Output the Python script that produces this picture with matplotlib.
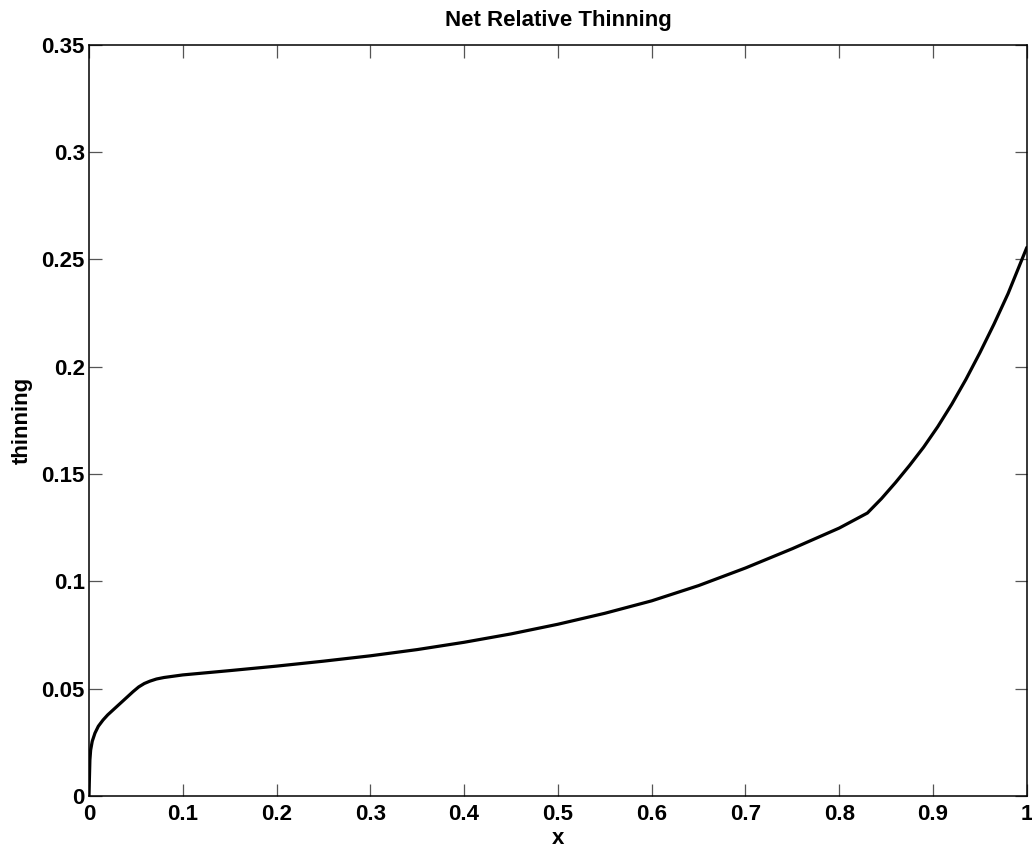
import matplotlib
matplotlib.use("Agg")
import matplotlib.pyplot as plt

# curve
x_vals = [0.0, 0.001, 0.0018, 0.0035, 0.0064, 0.01, 0.015, 0.02, 0.0295, 0.035,
          0.041, 0.047, 0.053, 0.059, 0.065, 0.072, 0.08, 0.09, 0.1, 0.15,
          0.2, 0.25, 0.3, 0.35, 0.4, 0.45, 0.5, 0.55, 0.6, 0.65,
          0.7, 0.75, 0.8, 0.83, 0.845, 0.86, 0.875, 0.89, 0.905, 0.92,
          0.935, 0.95, 0.965, 0.98, 1.0]
thinning = [0.0, 0.0168, 0.0214, 0.0255, 0.0293, 0.0325, 0.0354, 0.0378, 0.0416, 0.0438,
            0.0462, 0.0486, 0.0508, 0.0524, 0.0535, 0.0545, 0.0552, 0.0558, 0.0564, 0.0584,
            0.0605, 0.0628, 0.0653, 0.0682, 0.0716, 0.0755, 0.0800, 0.0851, 0.0909, 0.0980,
            0.1062, 0.1152, 0.1248, 0.1318, 0.1385, 0.1460, 0.1540, 0.1625, 0.1720, 0.1825,
            0.1940, 0.2065, 0.2198, 0.2340, 0.2555]

x_ticks = [0, 0.1, 0.2, 0.3, 0.4, 0.5, 0.6, 0.7, 0.8, 0.9, 1]
x_tick_labels = ['0', '0.1', '0.2', '0.3', '0.4', '0.5', '0.6', '0.7', '0.8', '0.9', '1']
y_ticks = [0, 0.05, 0.1, 0.15, 0.2, 0.25, 0.3, 0.35]
y_tick_labels = ['0', '0.05', '0.1', '0.15', '0.2', '0.25', '0.3', '0.35']

plt.rcParams['font.family'] = ['Liberation Sans', 'DejaVu Sans']
plt.rcParams['font.weight'] = 'bold'

fig = plt.figure(figsize=(10.32, 8.51), dpi=100)
ax = fig.add_axes([0.0862, 0.0646, 0.9088, 0.8831])

ax.plot(x_vals, thinning, color='black', linewidth=2.3,
        solid_joinstyle='round', solid_capstyle='round')

ax.set_xlim(0, 1)
ax.set_ylim(0, 0.35)
ax.set_xticks(x_ticks)
ax.set_xticklabels(x_tick_labels, fontsize=16, fontweight='bold')
ax.set_yticks(y_ticks)
ax.set_yticklabels(y_tick_labels, fontsize=16, fontweight='bold')
ax.tick_params(direction='in', length=9, width=0.9, color='#555555',
               top=True, right=True)
ax.tick_params(axis='x', pad=6)
ax.tick_params(axis='y', pad=3)
for s in ax.spines.values():
    s.set_linewidth(1.1)
    s.set_color('black')

ax.set_title('Net Relative Thinning', fontsize=16, fontweight='bold', pad=13)
ax.set_xlabel('x', fontsize=16, fontweight='bold', labelpad=2)
ax.set_ylabel('thinning', fontsize=16, fontweight='bold', labelpad=6)

fig.savefig('out.png', dpi=100)
